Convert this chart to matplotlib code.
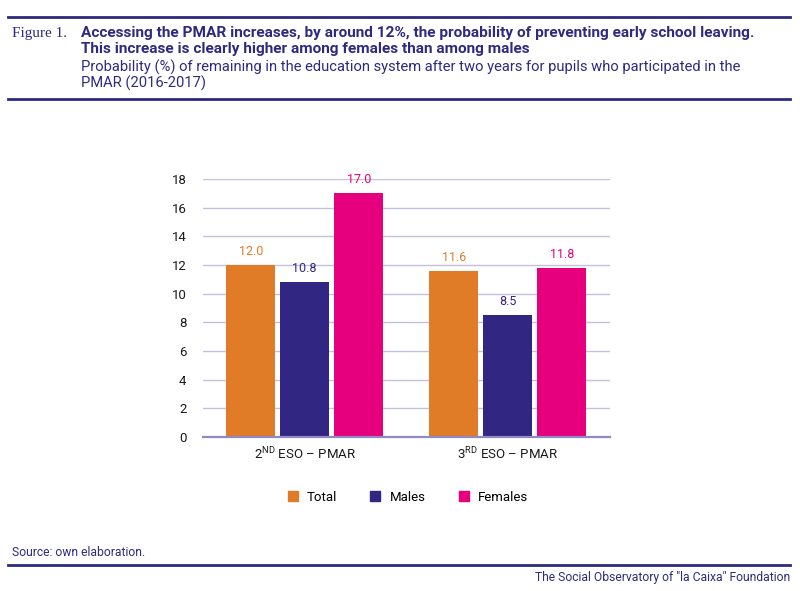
import numpy as np
import matplotlib
matplotlib.use("Agg")
import matplotlib.pyplot as plt
from matplotlib.lines import Line2D
from matplotlib.patches import Rectangle

plt.rcParams['font.family'] = ['Roboto', 'DejaVu Sans']
plt.rcParams['mathtext.fontset'] = 'custom'
plt.rcParams['mathtext.rm'] = 'Roboto'

# data
groups = ["2$^{\\rm ND}$ ESO – PMAR", "3$^{\\rm RD}$ ESO – PMAR"]
series = ["Total", "Males", "Females"]
total = [12.0, 11.6]
males = [10.8, 8.5]
females = [17.0, 11.8]
yticks = [0, 2, 4, 6, 8, 10, 12, 14, 16, 18]

colors = ["#E07B27", "#312783", "#E6007E"]
navy = "#2E2A7F"

fig = plt.figure(figsize=(8, 5.91), dpi=100)
ax = fig.add_axes([0.254, 0.2606, 0.5088, 0.4366])

x = np.arange(len(groups))
width = 0.241
step = 0.266
for i, (vals, col) in enumerate(zip([total, males, females], colors)):
    pos = x + (i - 1) * step
    ax.bar(pos, vals, width=width, color=col, zorder=3, label=series[i])
    for p, v in zip(pos, vals):
        ax.text(p, v + 0.5, f"{v:.1f}", ha="center", va="bottom",
                color=col, fontsize=9)

ax.set_xlim(-0.5, 1.505)
ax.set_ylim(0, 18)
ax.set_yticks(yticks)
ax.set_xticks(x)
ax.set_xticklabels(groups, fontsize=9.5, color="#1a1a1a")
ax.tick_params(axis="y", length=0, labelsize=9.5, labelcolor="#1a1a1a", pad=12)
ax.tick_params(axis="x", length=0, pad=6)
ax.grid(axis="y", color="#C4C1E0", linewidth=1, zorder=0)
for s in ["top", "right", "left"]:
    ax.spines[s].set_visible(False)
ax.spines["bottom"].set_color("#8F8AC4")
ax.spines["bottom"].set_linewidth(1.6)
ax.spines["bottom"].set_zorder(4)

# legend
handles = [Rectangle((0, 0), 1, 1, color=c) for c in colors]
fig.legend(handles, series, loc="center", bbox_to_anchor=(0.51, 0.159),
           ncol=3, frameon=False, fontsize=9.5, handlelength=0.76,
           handleheight=0.76, columnspacing=2.5, handletextpad=0.7)

# header
fig.add_artist(Line2D([0.01, 0.988], [1 - 17/591, 1 - 17/591], color=navy, lw=2))
fig.add_artist(Line2D([0.01, 0.988], [1 - 99/591, 1 - 99/591], color=navy, lw=2))
fig.text(12/800, 1 - 33/591, "Figure 1.", family="Liberation Serif", fontsize=11,
         color=navy, va="center")
fig.text(81/800, 1 - 33/591,
         "Accessing the PMAR increases, by around 12%, the probability of preventing early school leaving.",
         fontsize=11.1, fontweight="bold", color=navy, va="center")
fig.text(81/800, 1 - 49/591,
         "This increase is clearly higher among females than among males",
         fontsize=11.1, fontweight="bold", color=navy, va="center")
fig.text(81/800, 1 - 67/591,
         "Probability (%) of remaining in the education system after two years for pupils who participated in the",
         fontsize=10.6, color=navy, va="center")
fig.text(81/800, 1 - 83/591, "PMAR (2016-2017)",
         fontsize=10.6, color=navy, va="center")

# footer
fig.text(12/800, 1 - 552/591, "Source: own elaboration.", fontsize=8.7,
         color=navy, va="center")
fig.add_artist(Line2D([0.01, 0.988], [1 - 565/591, 1 - 565/591], color=navy, lw=2))
fig.text(790/800, 1 - 577/591, 'The Social Observatory of "la Caixa" Foundation',
         fontsize=8.7, color=navy, va="center", ha="right")

fig.savefig("out.png", dpi=100)
